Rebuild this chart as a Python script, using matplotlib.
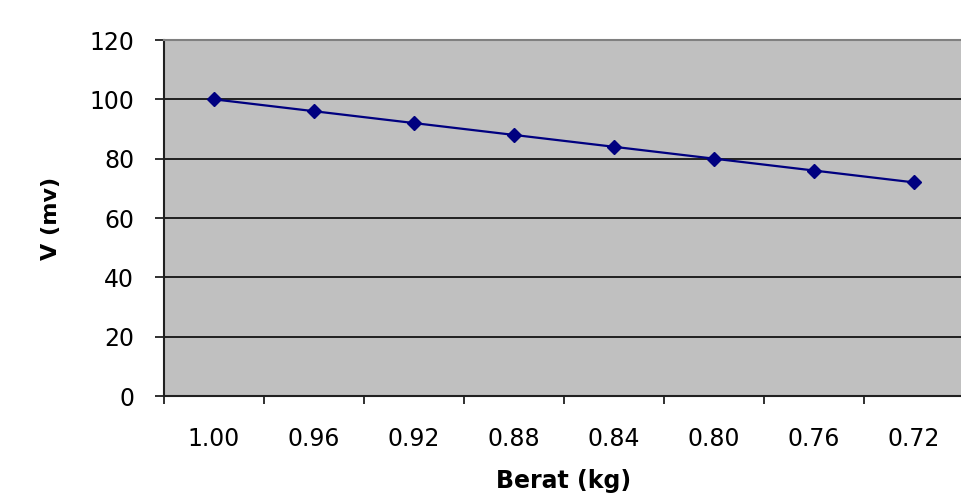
import matplotlib
matplotlib.use("Agg")
import matplotlib.pyplot as plt

categories = ["1.00", "0.96", "0.92", "0.88", "0.84", "0.80", "0.76", "0.72"]
voltage = [100, 96, 92, 88, 84, 80, 76, 72]
y_ticks = [0, 20, 40, 60, 80, 100, 120]

plt.rcParams['font.family'] = ['DejaVu Sans']

fig = plt.figure(figsize=(9.61, 5.0), dpi=100)
fig.patch.set_facecolor('white')
ax = fig.add_axes([164/961, 1-396/500, 800/961, 356/500])
ax.set_facecolor('#C0C0C0')

x = list(range(len(categories)))
ax.plot(x, voltage, color='#000080', lw=1.6, marker='D', markersize=7,
        markerfacecolor='#000080', markeredgecolor='#000080', zorder=3)

ax.set_xlim(-0.5, len(categories) - 0.5)
ax.set_ylim(0, 120)
ax.set_yticks(y_ticks)
ax.set_yticklabels([str(v) for v in y_ticks], fontsize=17)
for v in y_ticks[1:]:
    ax.axhline(v, color='#202020', lw=1.4, zorder=1)

ax.set_xticks([i - 0.5 for i in range(len(categories))])
ax.set_xticklabels([])
ax.set_xticks(x, minor=True)
ax.set_xticklabels(categories, minor=True, fontsize=17)
ax.tick_params(axis='x', which='major', length=5.5, width=1.3, color='#202020')
ax.tick_params(axis='x', which='minor', length=0, pad=22)
ax.tick_params(axis='y', which='major', length=6.5, width=1.3, color='#202020', pad=15)

for s in ['left', 'bottom']:
    ax.spines[s].set_color('#202020')
    ax.spines[s].set_linewidth(1.5)
ax.spines['top'].set_color('#808080')
ax.spines['top'].set_linewidth(1.5)
ax.spines['right'].set_color('#808080')

ax.set_xlabel('Berat (kg)', fontsize=17, fontweight='bold', labelpad=13)
ax.set_ylabel('V (mv)', fontsize=16, fontweight='bold', labelpad=20)

fig.savefig('out.png', dpi=100, facecolor='white')
